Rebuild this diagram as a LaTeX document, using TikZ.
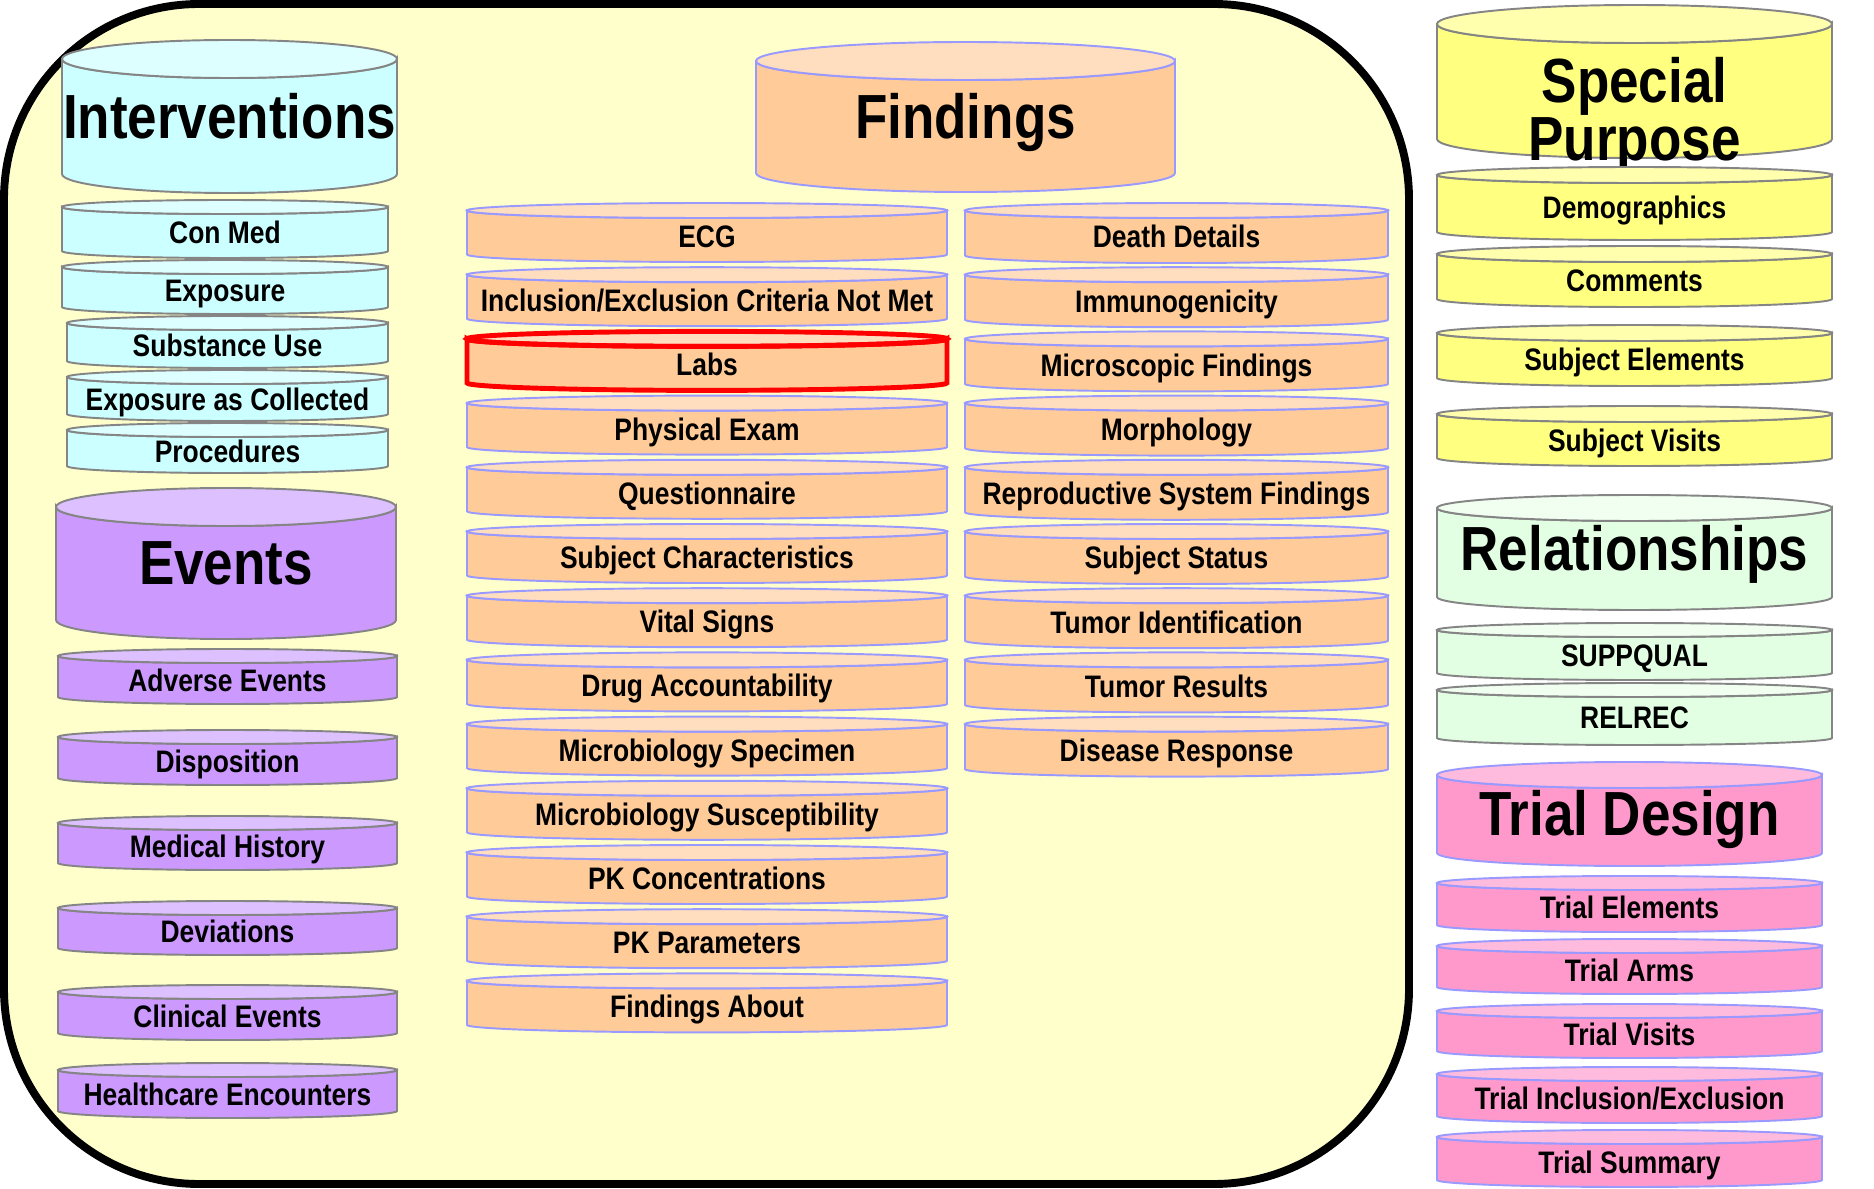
\documentclass[tikz,border=0pt]{standalone}
\usepackage{fontspec}
\setmainfont{Liberation Sans}[FakeStretch=0.85]
\definecolor{bgyel}{HTML}{FFFFCC}
\definecolor{grayedge}{HTML}{858585}
\definecolor{blueedge}{HTML}{9999FF}
\definecolor{intA}{HTML}{CCFFFF}\definecolor{intB}{HTML}{DEFFFF}
\definecolor{evtA}{HTML}{CC99FF}\definecolor{evtB}{HTML}{DDC0FF}
\definecolor{findA}{HTML}{FFCC99}\definecolor{findB}{HTML}{FFDDBF}
\definecolor{specA}{HTML}{FFFF80}\definecolor{specB}{HTML}{FFFFAE}
\definecolor{relA}{HTML}{E3FFE3}\definecolor{relB}{HTML}{F0FFF0}
\definecolor{trlA}{HTML}{FF99CC}\definecolor{trlB}{HTML}{FFBBDD}

\tikzset{
  lbl/.style={font=\bfseries\fontsize{17.7}{20}\selectfont,text height=12.7pt,text depth=0pt,inner sep=0pt},
  head/.style={font=\bfseries\fontsize{35.5}{30}\selectfont,text height=25.4pt,text depth=0pt},
  intbody/.style={fill=intA,draw=grayedge,line width=1.1pt},
  inttop/.style={fill=intB,draw=grayedge,line width=1.1pt},
  evtbody/.style={fill=evtA,draw=grayedge,line width=1.1pt},
  evttop/.style={fill=evtB,draw=grayedge,line width=1.1pt},
  findbody/.style={fill=findA,draw=blueedge,line width=1.1pt},
  findtop/.style={fill=findB,draw=blueedge,line width=1.1pt},
  specbody/.style={fill=specA,draw=grayedge,line width=1.1pt},
  spectop/.style={fill=specB,draw=grayedge,line width=1.1pt},
  relbody/.style={fill=relA,draw=grayedge,line width=1.1pt},
  reltop/.style={fill=relB,draw=grayedge,line width=1.1pt},
  trlbody/.style={fill=trlA,draw=blueedge,line width=1.1pt},
  trltop/.style={fill=trlB,draw=blueedge,line width=1.1pt},
  labsline/.style={draw=red,line width=2.8pt},
  frame/.style={fill=bgyel,draw=black,line width=4.5pt,rounded corners=3.9cm}
}

% #1 node extras, #2 family, #3 name, #4 left, #5 right, #6 top, #7 bottom, #8 ry, #9 text
\newcommand{\dbcyl}[9][]{%
  \path[#2body] (#4,#6+#8) -- (#4,#7-#8)
    arc[start angle=180,end angle=0,x radius={(#5-#4)/2},y radius=#8]
    -- (#5,#6+#8)
    arc[start angle=0,end angle=180,x radius={(#5-#4)/2},y radius=#8] -- cycle;
  \path[#2top] ({(#4+#5)/2},#6+#8) ellipse[x radius={(#5-#4)/2},y radius=#8];
  \node[lbl,#1] (#3) at ({(#4+#5)/2},{(#6+#7)/2+#8/2}) {#9};
}

\begin{document}
\begin{tikzpicture}[x=0.02cm,y=-0.02cm]
\path[fill=white,use as bounding box] (0,0) rectangle (1874,1189);
\draw[frame] (4,4) rectangle (1409,1184);

\dbcyl[head,shift={(0,-10)}]{int}{intv}{62}{397}{40}{193}{19}{Interventions}
\dbcyl{int}{cmed}{62}{388}{200}{258}{7}{Con Med}
\dbcyl{int}{expo}{62}{388}{260}{314}{7}{Exposure}
\dbcyl{int}{subu}{67}{388}{316}{368}{7}{Substance Use}
\dbcyl{int}{expc}{67}{388}{370}{421}{7}{Exposure as Collected}
\dbcyl{int}{proc}{67}{388}{423}{473}{7}{Procedures}

\dbcyl[head,shift={(0,-11)}]{evt}{evts}{56}{396}{488}{639}{19}{Events}
\dbcyl{evt}{advr}{58}{397}{649}{704}{7}{Adverse Events}
\dbcyl{evt}{disp}{58}{397}{730}{785}{7}{Disposition}
\dbcyl{evt}{mhst}{58}{397}{816}{870}{7}{Medical History}
\dbcyl{evt}{devs}{58}{397}{901}{955}{7}{Deviations}
\dbcyl{evt}{clev}{58}{397}{985}{1040}{7}{Clinical Events}
\dbcyl{evt}{hcen}{58}{397}{1063}{1118}{7}{Healthcare Encounters}

\dbcyl[head,shift={(0,-10)}]{find}{fnds}{756}{1175}{42}{192}{19}{Findings}
\foreach \lab [count=\i from 0] in {ECG,{Inclusion/Exclusion Criteria Not Met},Labs,Physical Exam,
    Questionnaire,Subject Characteristics,Vital Signs,Drug Accountability,Microbiology Specimen,
    Microbiology Susceptibility,PK Concentrations,PK Parameters,Findings About}
  \dbcyl{find}{fl\i}{467}{947}{203+64.2*\i}{262+64.2*\i}{7.5}{\lab};
\foreach \lab [count=\i from 0] in {Death Details,Immunogenicity,Microscopic Findings,Morphology,
    Reproductive System Findings,Subject Status,Tumor Identification,Tumor Results,Disease Response}
  \dbcyl{find}{fr\i}{965}{1388}{203+64.2*\i}{263+64.2*\i}{7.5}{\lab};
\draw[labsline] (467,331.4+7.5) -- (467,390.4-7.5)
    arc[start angle=180,end angle=0,x radius=240,y radius=7.5]
    -- (947,331.4+7.5)
    arc[start angle=0,end angle=180,x radius=240,y radius=7.5] -- cycle;
\draw[labsline] (707,331.4+7.5) ellipse[x radius=240,y radius=7.5];

\dbcyl[head,shift={(0,18.5)},text depth=33.9pt]{spec}{spcp}{1437}{1832}{5}{158}{19}{\begin{tabular}[t]{@{}c@{}}Special\\Purpose\end{tabular}}
\dbcyl{spec}{demo}{1437}{1832}{167}{240}{8}{Demographics}
\dbcyl{spec}{comm}{1437}{1832}{246}{307}{8}{Comments}
\dbcyl{spec}{sbel}{1437}{1832}{325}{386}{8}{Subject Elements}
\dbcyl{spec}{sbvs}{1437}{1832}{406}{466}{8}{Subject Visits}

\dbcyl[head,shift={(0,-11)}]{rel}{rels}{1437}{1832}{495}{610}{13}{Relationships}
\dbcyl{rel}{supq}{1437}{1832}{623}{680}{7}{SUPPQUAL}
\dbcyl{rel}{rlrc}{1437}{1832}{683}{745}{7}{RELREC}

\dbcyl[head,shift={(0,-7)}]{trl}{tdes}{1437}{1822}{762}{866}{13}{Trial Design}
\dbcyl{trl}{tel}{1437}{1822}{876}{932}{7}{Trial Elements}
\dbcyl{trl}{tarm}{1437}{1822}{939}{994}{7}{Trial Arms}
\dbcyl{trl}{tvis}{1437}{1822}{1004}{1058}{7}{Trial Visits}
\dbcyl{trl}{tinc}{1437}{1822}{1067}{1123}{7}{Trial Inclusion/Exclusion}
\dbcyl{trl}{tsum}{1437}{1822}{1130}{1187}{7}{Trial Summary}
\end{tikzpicture}
\end{document}
